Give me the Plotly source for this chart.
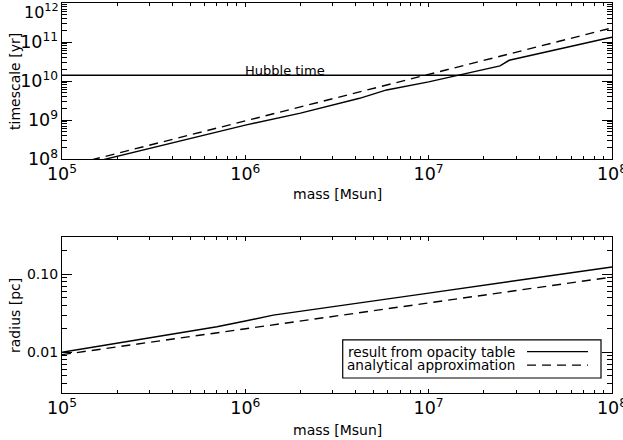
import math
import plotly.graph_objects as go

# ---------------- data ----------------
# top panel: timescale [yr] vs mass [Msun]
mass_top_solid = [1.0e5, 1.75e5, 1.0e6, 2.0e6, 4.2e6, 5.9e6, 1.0e7, 2.45e7, 2.75e7, 9.4e7, 1.0e8]
time_top_solid = [5.3e7, 1.0e8, 7.4e8, 1.5e9, 3.6e9, 5.9e9, 9.5e9, 2.43e10, 3.4e10, 1.25e11, 1.32e11]
mass_top_dash = [1.0e5, 1.0e6, 1.0e7, 1.0e8]
time_top_dash = [6.1e7, 9.5e8, 1.5e10, 2.3e11]
hubble_time = 1.4e10
hubble_mass_range = [1.0e5, 1.0e8]

# bottom panel: radius [pc] vs mass [Msun]
mass_bot_solid = [1.0e5, 3.2e5, 7.0e5, 1.0e6, 1.42e6, 1.0e7, 1.0e8]
radius_bot_solid = [0.0100, 0.0158, 0.0212, 0.0251, 0.0299, 0.0573, 0.124]
mass_bot_dash = [1.0e5, 1.0e6, 1.0e7, 1.0e8]
radius_bot_dash = [0.0093, 0.0200, 0.0430, 0.0920]

legend_labels = ["result from opacity table", "analytical approximation"]
top_label_text = "10<sup>12</sup>"

FONT = "DejaVu Sans"
BLACK = "#000000"
LW = 1.4
DASH = "9px,6px"

fig = go.Figure()

def line_trace(x, y, xa, ya, dash=None, visible_line=True):
    return go.Scatter(x=x, y=y, mode="lines", xaxis=xa, yaxis=ya, showlegend=False,
                      hoverinfo="skip",
                      line=dict(color=BLACK if visible_line else "rgba(0,0,0,0)",
                                width=LW, dash=dash))

# top panel
fig.add_trace(line_trace(mass_top_solid, time_top_solid, "x", "y"))
fig.add_trace(line_trace(mass_top_dash, time_top_dash, "x", "y", dash=DASH))
fig.add_trace(line_trace(hubble_mass_range, [hubble_time, hubble_time], "x", "y"))
# bottom panel
fig.add_trace(line_trace(mass_bot_solid, radius_bot_solid, "x2", "y2"))
fig.add_trace(line_trace(mass_bot_dash, radius_bot_dash, "x2", "y2", dash=DASH))
# helper (transparent) traces so the mirrored tick axes are drawn
fig.add_trace(line_trace(mass_top_dash, time_top_dash, "x3", "y", visible_line=False))
fig.add_trace(line_trace(mass_top_dash, time_top_dash, "x", "y3", visible_line=False))
fig.add_trace(line_trace(mass_bot_dash, radius_bot_dash, "x4", "y2", visible_line=False))
fig.add_trace(line_trace(mass_bot_dash, radius_bot_dash, "x2", "y4", visible_line=False))

tickfont = dict(family=FONT, size=14, color=BLACK)
XR = [5, 8.0002]
YR_TOP = [7.9999, 12.0002]
YR_BOT = [math.log10(0.003), math.log10(0.3)]

def xaxis_cfg(anchor, labels=True, side="bottom", overlaying=None):
    d = dict(type="log", range=XR, anchor=anchor, dtick=1, side=side,
             exponentformat="power", showexponent="all", showticklabels=labels,
             ticklabeloverflow="allow",
             ticks="inside", ticklen=4, tickwidth=1, tickcolor=BLACK,
             minor=dict(ticks="inside", ticklen=2.5, dtick="D1", tickcolor=BLACK, showgrid=False),
             showline=True, linecolor=BLACK, linewidth=1.3,
             showgrid=False, zeroline=False, tickfont=tickfont, automargin=False)
    if overlaying:
        d["overlaying"] = overlaying
    return d

def yaxis_cfg(anchor, rng, domain, fmt=None, labels=True, side="left", overlaying=None):
    d = dict(type="log", range=rng, anchor=anchor, dtick=1, side=side, showticklabels=labels,
             ticklabeloverflow="allow",
             ticks="inside", ticklen=10, tickwidth=1, tickcolor=BLACK,
             minor=dict(ticks="inside", ticklen=5, dtick="D1", tickcolor=BLACK, showgrid=False),
             showline=True, linecolor=BLACK, linewidth=1.3,
             showgrid=False, zeroline=False, tickfont=tickfont, automargin=False)
    if overlaying:
        d["overlaying"] = overlaying
    else:
        d["domain"] = domain
    if fmt:
        d["tickformat"] = fmt
    else:
        d["exponentformat"] = "power"
        d["showexponent"] = "all"
    return d

yaxis_top = yaxis_cfg("x", YR_TOP, [0.6, 1.0])
# the top-end label is drawn as an annotation a little lower, as in the reference
yaxis_top["labelalias"] = {top_label_text: " "}

fig.update_layout(
    width=623, height=440,
    margin=dict(l=62, r=11, t=3, b=47),
    paper_bgcolor="white", plot_bgcolor="white",
    font=dict(family=FONT, size=14, color=BLACK),
    xaxis=xaxis_cfg("y"),
    yaxis=yaxis_top,
    xaxis2=xaxis_cfg("y2"),
    yaxis2=yaxis_cfg("x2", YR_BOT, [0.0, 0.4], fmt=".2f"),
    xaxis3=xaxis_cfg("y", labels=False, side="top", overlaying="x"),
    yaxis3=yaxis_cfg("x", YR_TOP, None, labels=False, side="right", overlaying="y"),
    xaxis4=xaxis_cfg("y2", labels=False, side="top", overlaying="x2"),
    yaxis4=yaxis_cfg("x2", YR_BOT, None, fmt=".2f", labels=False, side="right", overlaying="y2"),
    showlegend=False,
)

legend_font = dict(family=FONT, size=13.6, color=BLACK)
annotations = [
    dict(text=top_label_text, x=-0.003, y=1.0077, xref="paper", yref="paper",
         xanchor="right", yanchor="top", showarrow=False, borderpad=0,
         font=dict(family=FONT, size=16, color=BLACK)),
    dict(text="Hubble time", x=math.log10(1.65e6), y=math.log10(hubble_time), xref="x", yref="y",
         xanchor="center", yanchor="bottom", showarrow=False, yshift=-5,
         font=dict(family=FONT, size=13, color=BLACK)),
    dict(text="timescale [yr]", x=-0.0855, y=0.8, xref="paper", yref="paper",
         textangle=-90, showarrow=False, xanchor="center", yanchor="middle"),
    dict(text="radius [pc]", x=-0.0855, y=0.2, xref="paper", yref="paper",
         textangle=-90, showarrow=False, xanchor="center", yanchor="middle"),
    dict(text="mass [Msun]", x=0.5, y=0.5103, xref="paper", yref="paper",
         showarrow=False, xanchor="center", yanchor="middle"),
    dict(text="mass [Msun]", x=0.5, y=-0.0949, xref="paper", yref="paper",
         showarrow=False, xanchor="center", yanchor="middle"),
    dict(text=legend_labels[0], x=0.8273, y=0.265, xref="x2 domain", yref="y2 domain",
         showarrow=False, xanchor="right", yanchor="middle", font=legend_font),
    dict(text=legend_labels[1], x=0.8273, y=0.179, xref="x2 domain", yref="y2 domain",
         showarrow=False, xanchor="right", yanchor="middle", font=legend_font),
]
fig.update_layout(annotations=annotations)

shapes = [
    dict(type="rect", xref="x2 domain", yref="y2 domain", x0=0.5104, x1=0.9800, y0=0.096, y1=0.34,
         line=dict(color=BLACK, width=1.2), fillcolor="rgba(0,0,0,0)"),
    dict(type="line", xref="x2 domain", yref="y2 domain", x0=0.8455, x1=0.9564, y0=0.265, y1=0.265,
         line=dict(color=BLACK, width=LW)),
    dict(type="line", xref="x2 domain", yref="y2 domain", x0=0.8455, x1=0.9564, y0=0.179, y1=0.179,
         line=dict(color=BLACK, width=LW, dash=DASH)),
]
fig.update_layout(shapes=shapes)

fig.write_html("out.html", config={"displayModeBar": False},
               post_script="document.body.style.margin='0';document.body.style.padding='0';")
